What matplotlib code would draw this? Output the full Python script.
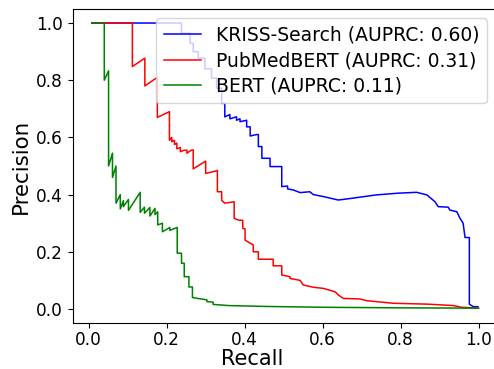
import matplotlib
matplotlib.use("Agg")
import matplotlib.pyplot as plt

# KRISS-Search
kriss_recall = [0.008, 0.238, 0.238, 0.26, 0.26, 0.268, 0.268, 0.281, 0.281, 0.298, 0.298,
                0.315, 0.315, 0.328, 0.328, 0.341, 0.341, 0.349, 0.349, 0.362, 0.362,
                0.379, 0.379, 0.388, 0.388, 0.405, 0.405, 0.414, 0.414, 0.431, 0.435,
                0.435, 0.444, 0.444, 0.465, 0.465, 0.495, 0.495, 0.51, 0.51, 0.525,
                0.542, 0.567, 0.576, 0.602, 0.64, 0.674, 0.738, 0.794, 0.841, 0.867,
                0.888, 0.896, 0.922, 0.926, 0.944, 0.952, 0.96, 0.965, 0.976, 0.976,
                0.986, 0.998]
kriss_precision = [1.0, 1.0, 0.964, 0.964, 0.929, 0.929, 0.90, 0.90, 0.877, 0.877, 0.84,
                   0.84, 0.807, 0.807, 0.772, 0.772, 0.719, 0.719, 0.672, 0.68, 0.665,
                   0.672, 0.66, 0.665, 0.655, 0.66, 0.637, 0.637, 0.605, 0.61, 0.61,
                   0.568, 0.568, 0.527, 0.527, 0.498, 0.498, 0.428, 0.43, 0.42, 0.416,
                   0.407, 0.41, 0.40, 0.393, 0.381, 0.387, 0.399, 0.405, 0.408, 0.399,
                   0.375, 0.358, 0.356, 0.346, 0.34, 0.317, 0.30, 0.25, 0.25, 0.017,
                   0.008, 0.008]

# PubMedBERT
pubmed_recall = [0.008, 0.112, 0.112, 0.144, 0.144, 0.176, 0.176, 0.207, 0.207, 0.213,
                 0.213, 0.220, 0.220, 0.226, 0.226, 0.235, 0.235, 0.244, 0.252, 0.252,
                 0.264, 0.268, 0.268, 0.30, 0.30, 0.33, 0.33, 0.341, 0.341, 0.349,
                 0.373, 0.373, 0.384, 0.395, 0.395, 0.401, 0.401, 0.414, 0.422, 0.422,
                 0.435, 0.435, 0.473, 0.473, 0.495, 0.495, 0.516, 0.516, 0.542, 0.55,
                 0.576, 0.602, 0.632, 0.64, 0.653, 0.696, 0.713, 0.781, 0.867, 0.935,
                 0.956, 0.998]
pubmed_precision = [1.0, 1.0, 0.848, 0.877, 0.78, 0.81, 0.67, 0.69, 0.59, 0.60,
                    0.585, 0.59, 0.575, 0.58, 0.56, 0.565, 0.55, 0.555, 0.555, 0.545,
                    0.556, 0.556, 0.49, 0.517, 0.474, 0.484, 0.41, 0.41, 0.38, 0.37,
                    0.375, 0.317, 0.311, 0.31, 0.282, 0.28, 0.241, 0.23, 0.224, 0.20,
                    0.20, 0.174, 0.174, 0.151, 0.151, 0.119, 0.113, 0.107, 0.10, 0.084,
                    0.076, 0.072, 0.06, 0.049, 0.037, 0.035, 0.029, 0.02, 0.017, 0.012,
                    0.006, 0.003]

# BERT
bert_recall = [0.008, 0.040, 0.040, 0.051, 0.051, 0.061, 0.061, 0.070, 0.070, 0.081,
               0.081, 0.089, 0.089, 0.102, 0.102, 0.132, 0.132, 0.143, 0.143, 0.157,
               0.157, 0.170, 0.170, 0.177, 0.177, 0.189, 0.189, 0.208, 0.208, 0.217,
               0.227, 0.227, 0.238, 0.238, 0.245, 0.245, 0.257, 0.257, 0.266, 0.266,
               0.284, 0.303, 0.303, 0.319, 0.319, 0.358, 0.45, 0.6, 0.8, 1.0]
bert_precision = [1.0, 1.0, 0.80, 0.833, 0.50, 0.545, 0.46, 0.50, 0.37, 0.40,
                  0.35, 0.379, 0.358, 0.383, 0.345, 0.408, 0.338, 0.356, 0.335, 0.355,
                  0.325, 0.352, 0.33, 0.34, 0.294, 0.30, 0.27, 0.285, 0.275, 0.28,
                  0.285, 0.195, 0.195, 0.16, 0.16, 0.113, 0.113, 0.077, 0.077, 0.040,
                  0.036, 0.032, 0.026, 0.024, 0.016, 0.012, 0.009, 0.006, 0.004, 0.003]

labels = ["KRISS-Search (AUPRC: 0.60)", "PubMedBERT (AUPRC: 0.31)", "BERT (AUPRC: 0.11)"]

W, H = 494, 369
fig = plt.figure(figsize=(W / 100, H / 100), dpi=100)
ax_left = 72.7
ax_right = 88.7 + 1.05 * 390
ax_top = 9.3
ax_bottom = 323
ax = fig.add_axes([ax_left / W, (H - ax_bottom) / H, (ax_right - ax_left) / W,
                   (ax_bottom - ax_top) / H])

ax.plot(kriss_recall, kriss_precision, color="blue", lw=1.1, label=labels[0])
ax.plot(pubmed_recall, pubmed_precision, color="red", lw=1.1, label=labels[1])
ax.plot(bert_recall, bert_precision, color="green", lw=1.1, label=labels[2])

ax.set_xlim(-0.041, 1.05)
ax.set_ylim(-0.049, 1.048)
ax.set_xticks([0.0, 0.2, 0.4, 0.6, 0.8, 1.0])
ax.set_yticks([0.0, 0.2, 0.4, 0.6, 0.8, 1.0])
ax.tick_params(labelsize=12.2)
ax.tick_params(axis="x", pad=2.5)
ax.set_xlabel("Recall", fontsize=15.0, va="top")
ax.set_ylabel("Precision", fontsize=15.4, labelpad=4)
ax.xaxis.set_label_coords((252 - ax_left) / (ax_right - ax_left), -0.083)

fig.legend(loc="upper right", bbox_to_anchor=(487 / W, 1 - 18.3 / H), borderaxespad=0,
           fontsize=13.5, labelspacing=0.35)

fig.savefig("out.png", dpi=100)
